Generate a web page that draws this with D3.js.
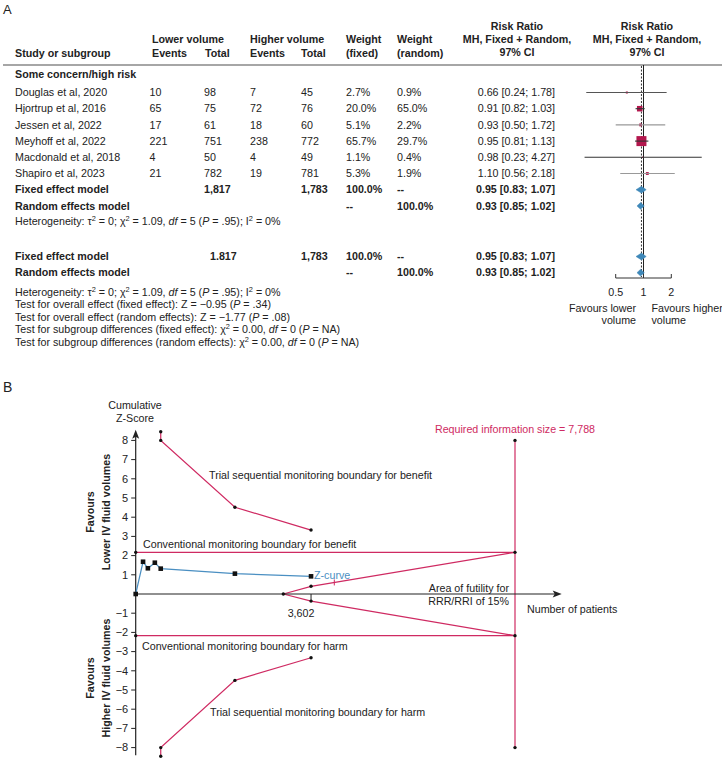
<!DOCTYPE html>
<html><head><meta charset="utf-8">
<script src="https://cdn.jsdelivr.net/npm/d3@7"></script>
<style>body{margin:0;background:#fff} svg{display:block} text{font-family:"Liberation Sans",Arial,Helvetica,sans-serif;fill:#222}</style>
</head><body><svg id="c" width="722" height="758"></svg>
<script>
// ---------- Panel A data ----------
const studies = ["Douglas et al, 2020","Hjortrup et al, 2016","Jessen et al, 2022","Meyhoff et al, 2022","Macdonald et al, 2018","Shapiro et al, 2023"];
const lowerEvents = [10,65,17,221,4,21];
const lowerTotal = [98,75,61,751,50,782];
const higherEvents = [7,72,18,238,4,19];
const higherTotal = [45,76,60,772,49,781];
const weightFixed = [2.7,20.0,5.1,65.7,1.1,5.3];
const weightRandom = [0.9,65.0,2.2,29.7,0.4,1.9];
const rr = [0.66,0.91,0.93,0.95,0.98,1.10];
const rrLow = [0.24,0.82,0.50,0.81,0.23,0.56];
const rrHigh = [1.78,1.03,1.72,1.13,4.27,2.18];
const pooledLabels = ["Fixed effect model","Random effects model"];
const pooledRR = [0.95,0.93];
const pooledLow = [0.83,0.85];
const pooledHigh = [1.07,1.02];
const pooledTotalsLower = ["1,817","1.817"];
const pooledTotalHigher = 1783;
const forestTicks = [0.5,1,2];

// ---------- Panel B data ----------
const zPatients = [0,151,250,393,514,2037,3600];
const zScores = [0,1.68,1.34,1.63,1.32,1.06,0.92];
const tsmbPatients = [514,514,2037,3600];
const tsmbBenefit = [8.45,8.0,4.52,3.33];
const tsmbHarm = [-8.45,-8.0,-4.5,-3.32];
const conventionalZ = [2.17,-2.17];
const futilityPatients = [3031,3600,7788];
const futilityUpper = [0,0.40,2.17];
const futilityLower = [0,-0.37,-2.17];
const requiredInfoSize = 7788;
const xAxisMax = 8747;
const patientsLabelValue = 3602;
const zTicks = [8,7,6,5,4,3,2,1,-1,-2,-3,-4,-5,-6,-7,-8];

// ---------- styles ----------
const FS = 10.7;
const PINK = "#cf2a62";
const BLUE = "#4a8fc2";
const SQ = "#b3174d";
const DIA = "#3f88b9";
const ciStroke = ["#555","#333","#999","#333","#333","#999"];

const svg = d3.select("#c");
const fmt = d3.format(",");
const pct = d => d.toFixed(1) + "%";
const bl = (y, fs) => y + 0.35 * (fs || FS);

function txt(x, y, s, o) {
  o = o || {};
  const fs = o.fs || FS;
  const t = svg.append("text").attr("x", x).attr("y", bl(y, fs)).style("font-size", fs + "px").text(s);
  if (o.anchor) t.attr("text-anchor", o.anchor);
  if (o.bold) t.style("font-weight", "bold");
  if (o.fill) t.style("fill", o.fill);
  return t;
}
function rich(x, y, segs, o) {
  o = o || {};
  const fs = o.fs || FS;
  const t = svg.append("text").attr("x", x).attr("y", bl(y, fs)).style("font-size", fs + "px");
  let shifted = 0;
  segs.forEach(s => {
    if (typeof s === "string") s = {t: s};
    const sp = t.append("tspan").text(s.t);
    let dy = 0;
    if (s.sup) { dy = -4 - shifted; shifted = -4; sp.style("font-size", "7.4px"); }
    else if (shifted) { dy = -shifted; shifted = 0; }
    if (dy) sp.attr("dy", dy);
    if (s.i) sp.style("font-style", "italic");
  });
  return t;
}

// ================= PANEL A =================
txt(3, 9, "A", {fs: 13});

const col = {name: 15, evL: 149.5, totL: 204, evH: 250, totH: 301, wF: 346, wR: 397, rrEnd: 555};
// headers
txt(152, 39, "Lower volume", {bold: true});
txt(250, 39, "Higher volume", {bold: true});
txt(15, 53, "Study or subgroup", {bold: true});
txt(152, 53, "Events", {bold: true});
txt(205, 53, "Total", {bold: true});
txt(250, 53, "Events", {bold: true});
txt(301, 53, "Total", {bold: true});
txt(346, 39, "Weight", {bold: true});
txt(346, 53, "(fixed)", {bold: true});
txt(397, 39, "Weight", {bold: true});
txt(397, 53, "(random)", {bold: true});
[517, 647].forEach(cx => {
  txt(cx, 26, "Risk Ratio", {bold: true, anchor: "middle"});
  txt(cx, 39.3, "MH, Fixed + Random,", {bold: true, anchor: "middle"});
  txt(cx, 52.7, "97% CI", {bold: true, anchor: "middle"});
});
svg.append("line").attr("x1", 3).attr("x2", 722).attr("y1", 65).attr("y2", 65)
  .attr("stroke", "#888").attr("stroke-width", 1.5);

txt(15, 74.5, "Some concern/high risk", {bold: true});

const rowY = i => 92.5 + i * 16.2;
const fx = d3.scaleLog().domain([0.5, 2]).range([615.7, 671.3]);
const sqSize = d3.scaleSqrt().domain([0, 65.7]).range([0, 10]);
const rrText = (e, l, h) => e.toFixed(2) + " [" + l.toFixed(2) + "; " + h.toFixed(2) + "]";

// forest reference lines
svg.append("line").attr("x1", fx(1)).attr("x2", fx(1)).attr("y1", 65).attr("y2", 278)
  .attr("stroke", "#222").attr("stroke-width", 1);
svg.append("line").attr("x1", fx(pooledRR[0])).attr("x2", fx(pooledRR[0])).attr("y1", 66).attr("y2", 277)
  .attr("stroke", "#333").attr("stroke-width", 1).attr("stroke-dasharray", "2,1.5");

studies.forEach((s, i) => {
  const y = rowY(i);
  txt(col.name, y, s);
  txt(col.evL, y, fmt(lowerEvents[i]));
  txt(col.totL, y, fmt(lowerTotal[i]));
  txt(col.evH, y, fmt(higherEvents[i]));
  txt(col.totH, y, fmt(higherTotal[i]));
  txt(col.wF, y, pct(weightFixed[i]));
  txt(col.wR, y, pct(weightRandom[i]));
  txt(col.rrEnd, y, rrText(rr[i], rrLow[i], rrHigh[i]), {anchor: "end"});
  const sz = sqSize(weightFixed[i]);
  svg.append("rect").attr("x", fx(rr[i]) - sz / 2).attr("y", y - sz / 2).attr("width", sz).attr("height", sz).attr("fill", SQ);
  svg.append("line").attr("x1", fx(rrLow[i])).attr("x2", fx(rrHigh[i])).attr("y1", y).attr("y2", y)
    .attr("stroke", ciStroke[i]).attr("stroke-width", 1.1);
});

function pooledBlock(y0, k) {
  pooledLabels.forEach((lab, j) => {
    const y = y0 + j * 16.2;
    txt(col.name, y, lab, {bold: true});
    if (j === 0) {
      txt(k === 0 ? col.totL : 210, y, pooledTotalsLower[k], {bold: true});
      txt(col.totH, y, fmt(pooledTotalHigher), {bold: true});
      txt(col.wF, y, "100.0%", {bold: true});
      txt(col.wR, y, "--", {bold: true});
    } else {
      txt(col.wF, y, "--", {bold: true});
      txt(col.wR, y, "100.0%", {bold: true});
    }
    txt(col.rrEnd, y, rrText(pooledRR[j], pooledLow[j], pooledHigh[j]), {anchor: "end", bold: true});
    const h = 3.4;
    const pts = [[fx(pooledLow[j]), y], [fx(pooledRR[j]), y - h], [fx(pooledHigh[j]), y], [fx(pooledRR[j]), y + h]];
    svg.append("path").attr("d", d3.line()(pts) + "Z").attr("fill", DIA).attr("stroke", DIA).attr("stroke-width", 0.5);
  });
}
pooledBlock(rowY(6), 0);
const hetSegs = ["Heterogeneity: τ", {t: "2", sup: true}, " = 0; χ", {t: "2", sup: true}, " = 1.09, ", {t: "df", i: true}, " = 5 (", {t: "P", i: true}, " = .95); I", {t: "2", sup: true}, " = 0%"];
rich(15, 221.5, hetSegs);

pooledBlock(256.5, 1);
rich(15, 292, hetSegs);
rich(15, 304.5, ["Test for overall effect (fixed effect): Z = −0.95 (", {t: "P", i: true}, " = .34)"]);
rich(15, 317, ["Test for overall effect (random effects): Z = −1.77 (", {t: "P", i: true}, " = .08)"]);
rich(15, 329.5, ["Test for subgroup differences (fixed effect): χ", {t: "2", sup: true}, " = 0.00, ", {t: "df", i: true}, " = 0 (", {t: "P", i: true}, " = NA)"]);
rich(15, 342, ["Test for subgroup differences (random effects): χ", {t: "2", sup: true}, " = 0.00, ", {t: "df", i: true}, " = 0 (", {t: "P", i: true}, " = NA)"]);

// forest axis
const axY = 278;
svg.append("line").attr("x1", fx(0.5)).attr("x2", fx(2)).attr("y1", axY).attr("y2", axY).attr("stroke", "#333").attr("stroke-width", 1);
forestTicks.forEach(t => {
  svg.append("line").attr("x1", fx(t)).attr("x2", fx(t)).attr("y1", axY).attr("y2", axY - 4).attr("stroke", "#333").attr("stroke-width", 1);
  txt(fx(t), 292, String(t), {anchor: "middle"});
});
txt(636, 308, "Favours lower", {anchor: "end"});
txt(636, 320, "volume", {anchor: "end"});
txt(651.5, 308, "Favours higher");
txt(651.5, 320, "volume");

// ================= PANEL B =================
txt(3, 387, "B", {fs: 14});

const bx = d3.scaleLinear().domain([0, requiredInfoSize]).range([135.7, 515]);
const by = d3.scaleLinear().domain([-8, 8]).range([747.6, 440.4]);
const lineGen = d3.line().x(d => bx(d[0])).y(d => by(d[1]));
const pinkPath = pts => svg.append("path").attr("d", lineGen(pts)).attr("fill", "none").attr("stroke", PINK).attr("stroke-width", 1.2);
const dot = p => svg.append("circle").attr("cx", bx(p[0])).attr("cy", by(p[1])).attr("r", 1.7).attr("fill", "#111");

// RIS vertical
pinkPath([[requiredInfoSize, 8], [requiredInfoSize, -8]]);
// conventional boundaries
conventionalZ.forEach(z => pinkPath([[0, z], [requiredInfoSize, z]]));
// TSMB
const benPts = tsmbPatients.map((n, i) => [n, tsmbBenefit[i]]);
const harmPts = tsmbPatients.map((n, i) => [n, tsmbHarm[i]]);
pinkPath(benPts); pinkPath(harmPts);
// futility
const futU = futilityPatients.map((n, i) => [n, futilityUpper[i]]);
const futL = futilityPatients.map((n, i) => [n, futilityLower[i]]);
pinkPath(futU); pinkPath(futL);
// small tick on upper futility line
{
  const n = 4078, z = futilityUpper[1] + (futilityUpper[2] - futilityUpper[1]) * (n - futilityPatients[1]) / (futilityPatients[2] - futilityPatients[1]);
  svg.append("line").attr("x1", bx(n)).attr("x2", bx(n)).attr("y1", by(z) - 3).attr("y2", by(z) + 3).attr("stroke", PINK).attr("stroke-width", 1);
}

// axes
const x0 = bx(0), y0 = by(0);
svg.append("line").attr("x1", x0).attr("x2", bx(xAxisMax) - 4).attr("y1", y0).attr("y2", y0).attr("stroke", "#222").attr("stroke-width", 1.2);
svg.append("path").attr("d", `M${bx(xAxisMax)},${y0} L${bx(xAxisMax) - 9},${y0 - 3.5} L${bx(xAxisMax) - 7},${y0} L${bx(xAxisMax) - 9},${y0 + 3.5}Z`).attr("fill", "#222");
const yTop = by(8.55);
svg.append("line").attr("x1", x0).attr("x2", x0).attr("y1", by(-8.4)).attr("y2", yTop + 4).attr("stroke", "#222").attr("stroke-width", 1.2);
svg.append("path").attr("d", `M${x0},${yTop} L${x0 - 3.5},${yTop + 9} L${x0},${yTop + 7} L${x0 + 3.5},${yTop + 9}Z`).attr("fill", "#222");
zTicks.forEach(t => {
  svg.append("line").attr("x1", x0 - 4.5).attr("x2", x0).attr("y1", by(t)).attr("y2", by(t)).attr("stroke", "#222").attr("stroke-width", 1);
  txt(x0 - 7.5, by(t), t < 0 ? "−" + Math.abs(t) : String(t), {anchor: "end", fs: 11});
});
// 3,602 tick
svg.append("line").attr("x1", bx(zPatients[6])).attr("x2", bx(zPatients[6])).attr("y1", y0).attr("y2", by(futilityLower[1]))
  .attr("stroke", "#222").attr("stroke-width", 1);

// z-curve
const zPts = zPatients.map((n, i) => [n, zScores[i]]);
svg.append("path").attr("d", lineGen(zPts)).attr("fill", "none").attr("stroke", BLUE).attr("stroke-width", 1.2);
zPts.forEach(p => svg.append("rect").attr("x", bx(p[0]) - 2.3).attr("y", by(p[1]) - 2.3).attr("width", 4.6).attr("height", 4.6).attr("fill", "#111"));

// dots
benPts.concat(harmPts).forEach(dot);
conventionalZ.forEach(z => { dot([0, z]); dot([requiredInfoSize, z]); });
dot([requiredInfoSize, 8]); dot([requiredInfoSize, -8]);
dot(futU[0]); dot(futU[1]); dot(futL[1]);

// labels
txt(135, 405, "Cumulative", {anchor: "middle"});
txt(135, 418, "Z-Score", {anchor: "middle"});
txt(209, 475, "Trial sequential monitoring boundary for benefit");
txt(143, 544.5, "Conventional monitoring boundary for benefit");
txt(314, 575, "Z-curve", {fill: BLUE});
txt(509, 588, "Area of futility for", {anchor: "end"});
txt(509, 601.5, "RRR/RRI of 15%", {anchor: "end"});
txt(301, 613, fmt(patientsLabelValue), {anchor: "middle"});
txt(527, 609.5, "Number of patients");
txt(bx(requiredInfoSize), 429, "Required information size = " + fmt(requiredInfoSize), {anchor: "middle", fill: PINK});
txt(142, 646, "Conventional monitoring boundary for harm");
txt(210, 712.5, "Trial sequential monitoring boundary for harm");

function vlabel(cx, cy, lines) {
  lines.forEach((l, i) => {
    svg.append("text").attr("transform", `translate(${cx[i] + 0.35 * FS},${cy}) rotate(-90)`)
      .attr("text-anchor", "middle").style("font-size", FS + "px").style("font-weight", "bold").text(l);
  });
}
vlabel([90, 106], 512, ["Favours", "Lower IV fluid volumes"]);
vlabel([90, 106], 678, ["Favours", "Higher IV fluid volumes"]);
</script></body></html>
